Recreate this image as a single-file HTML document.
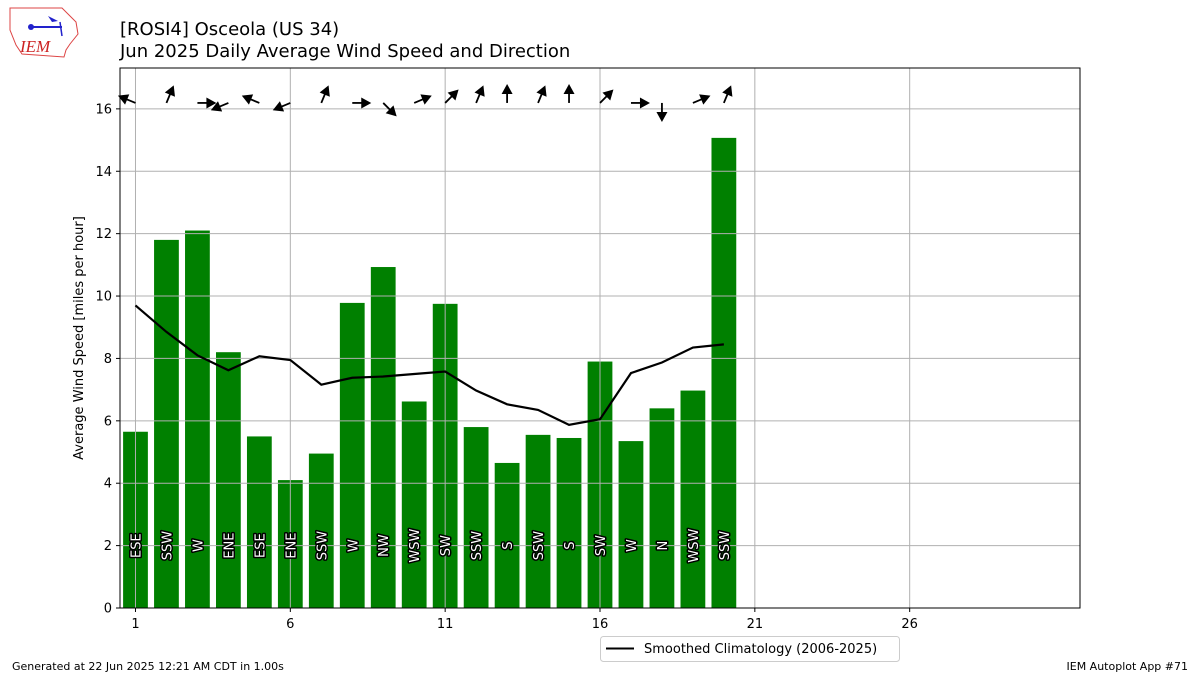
<!DOCTYPE html>
<html><head><meta charset="utf-8"><style>
body{margin:0;background:#fff;}
svg text{font-family:"DejaVu Sans","Liberation Sans",sans-serif;}
</style></head><body>
<svg id="c" width="1200" height="675" xmlns="http://www.w3.org/2000/svg">
<g>
<path d="M10,8 L62,8 L70,16 L76,22 L78,34 L70,44 L66,50 L64,57 L22,54 L16,45 L10,30 Z" fill="#fff" stroke="#d44" stroke-width="1"/>
<line x1="30" y1="27" x2="62" y2="27" stroke="#22c" stroke-width="2"/>
<circle cx="31" cy="27" r="3" fill="#22c"/>
<path d="M48,16 L58,21 L52,22 Z" fill="#22c"/>
<line x1="60" y1="22" x2="62" y2="36" stroke="#22c" stroke-width="1.5"/>
<text x="20" y="52" font-family="Liberation Serif,serif" font-style="italic" font-size="17" fill="#c22" style="font-family:'Liberation Serif',serif">IEM</text>
</g>
<text x="120" y="35" font-size="18">[ROSI4] Osceola (US 34)</text>
<text x="120" y="57" font-size="18">Jun 2025 Daily Average Wind Speed and Direction</text>
<g id="plot"></g>
<text x="12" y="670" font-size="11">Generated at 22 Jun 2025 12:21 AM CDT in 1.00s</text>
<text x="1188" y="670" font-size="11" text-anchor="end">IEM Autoplot App #71</text>
<g>
<rect x="600.5" y="636.5" width="299" height="25" rx="3" fill="#fff" stroke="#ccc"/>
<line x1="606" y1="648.5" x2="634" y2="648.5" stroke="#000" stroke-width="2"/>
<text x="644" y="653" font-size="13">Smoothed Climatology (2006-2025)</text>
</g>
</svg>
<script>
const days=[1,2,3,4,5,6,7,8,9,10,11,12,13,14,15,16,17,18,19,20];
const speeds=[5.65,11.8,12.1,8.2,5.5,4.1,4.95,9.78,10.93,6.62,9.75,5.8,4.65,5.55,5.45,7.9,5.35,6.4,6.97,15.07];
const dirs=["ESE","SSW","W","ENE","ESE","ENE","SSW","W","NW","WSW","SW","SSW","S","SSW","S","SW","W","N","WSW","SSW"];
const clim=[9.7,8.85,8.1,7.62,8.07,7.95,7.16,7.38,7.42,7.5,7.58,6.97,6.53,6.35,5.87,6.05,7.53,7.87,8.35,8.45];
const yTicks=[0,2,4,6,8,10,12,14,16];
const xTicks=[1,6,11,16,21,26];
const X0=120,X1=1080,Y0=608,Y1=68,xmin=0.5,xmax=31.5,ymin=0,ymax=17.31;
const xs=v=>X0+(v-xmin)/(xmax-xmin)*(X1-X0);
const ys=v=>Y0-(v-ymin)/(ymax-ymin)*(Y0-Y1);
const NS="http://www.w3.org/2000/svg";
const g=document.getElementById('plot');
function mk(t,a,p){const e=document.createElementNS(NS,t);for(const k in a)e.setAttribute(k,a[k]);(p||g).appendChild(e);return e;}
const pts=["N","NNE","NE","ENE","E","ESE","SE","SSE","S","SSW","SW","WSW","W","WNW","NW","NNW"];
const bw=0.8*(xs(2)-xs(1));
days.forEach((d,i)=>{
  const r=mk('rect',{x:xs(d)-bw/2,y:ys(speeds[i]),width:bw,height:ys(0)-ys(speeds[i]),fill:'#008000'});
  
  
});
yTicks.forEach(t=>{
  const l=mk('line',{x1:X0,x2:X1,y1:ys(t),y2:ys(t),stroke:'#b0b0b0','stroke-width':1});
  
  
  mk('line',{x1:X0-4,x2:X0,y1:ys(t),y2:ys(t),stroke:'#000'});
  const tx=mk('text',{x:X0-8,y:ys(t)+4.5,'font-size':13,'text-anchor':'end'});tx.textContent=t;
  
  
});
xTicks.forEach(t=>{
  const l=mk('line',{x1:xs(t),x2:xs(t),y1:Y1,y2:Y0,stroke:'#b0b0b0','stroke-width':1});
  
  
  mk('line',{x1:xs(t),x2:xs(t),y1:Y0,y2:Y0+4,stroke:'#000'});
  const tx=mk('text',{x:xs(t),y:Y0+20,'font-size':13,'text-anchor':'middle'});tx.textContent=t;
  
  
});
days.forEach((d,i)=>{
  const t=mk('text',{transform:`translate(${xs(d)+5},${ys(2)}) rotate(-90)`,'font-size':13,'text-anchor':'middle',fill:'#fff',stroke:'#000','stroke-width':3,'paint-order':'stroke','stroke-linejoin':'round'});
  t.textContent=dirs[i];
  
  
  const deg=pts.indexOf(dirs[i])*22.5*Math.PI/180,L=19;
  const x0=xs(d),y0=ys(16.19),dx=-Math.sin(deg),dy=Math.cos(deg);
  const x1=x0+dx*L,y1=y0+dy*L,px=-dy,py=dx;
  const a=mk('g',{});
  
  
  mk('line',{x1:x0,y1:y0,x2:x0+dx*(L-8),y2:y0+dy*(L-8),stroke:'#000','stroke-width':1.8},a);
  mk('polygon',{points:`${x1},${y1} ${x1-dx*10+px*5.5},${y1-dy*10+py*5.5} ${x1-dx*10-px*5.5},${y1-dy*10-py*5.5}`,fill:'#000'},a);
});
const line=mk('polyline',{points:days.map((d,i)=>xs(d)+','+ys(clim[i])).join(' '),fill:'none',stroke:'#000','stroke-width':2.2});


const fr=mk('rect',{x:X0,y:Y1,width:X1-X0,height:Y0-Y1,fill:'none',stroke:'#000','stroke-width':1});


const yl=mk('text',{transform:`translate(83,${(Y0+Y1)/2}) rotate(-90)`,'font-size':13,'text-anchor':'middle'});
yl.textContent='Average Wind Speed [miles per hour]';


</script>
</body></html>
